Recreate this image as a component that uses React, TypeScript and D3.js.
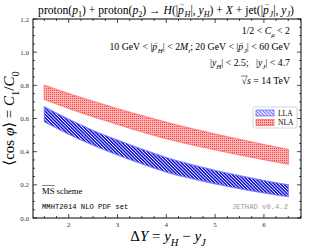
import React from 'react';
import * as d3 from 'd3';

const dY = [1.5, 2, 2.5, 3, 3.5, 4, 4.5, 5, 5.5, 6, 6.5];
const llaUp = [0.67, 0.595, 0.528, 0.47, 0.415, 0.365, 0.323, 0.287, 0.255, 0.226, 0.2];
const llaLo = [0.58, 0.505, 0.439, 0.38, 0.326, 0.277, 0.239, 0.206, 0.177, 0.151, 0.128];
const nlaUp = [0.8, 0.75, 0.703, 0.659, 0.617, 0.577, 0.54, 0.506, 0.474, 0.443, 0.413];
const nlaLo = [0.715, 0.661, 0.611, 0.565, 0.52, 0.478, 0.443, 0.411, 0.381, 0.352, 0.325];
const xTicks = [2, 3, 4, 5, 6];
const yTicks = [0, 0.2, 0.4, 0.6, 0.8, 1.0, 1.2];

const W = 310;
const H = 248;
const left = 33;
const right = 301;
const top = 19;
const bottom = 218;

const serif = '"Liberation Serif", "DejaVu Serif", serif';
const mono = '"Liberation Mono", "DejaVu Sans Mono", monospace';

// [text, style]: '' roman, 'i' italic, 's' italic subscript, 'sn' roman subscript, 'v' vector (italic p with arrow)
type Seg = [string, string?];

const Rich = ({ segs, size, ...rest }: { segs: Seg[]; size: number; [k: string]: any }) => {
  let cur = 0;
  const out: JSX.Element[] = [];
  segs.forEach(([t, s = ''], i) => {
    const sub = s.startsWith('s');
    const it = s === 'i' || s === 's' || s === 'v';
    const off = sub ? size * 0.3 : 0;
    out.push(
      <tspan key={i} dy={off - cur} fontStyle={it ? 'italic' : 'normal'} fontSize={sub ? size * 0.7 : size}>
        {t}
      </tspan>
    );
    cur = off;
    if (s === 'v') {
      const wp = size * 0.5;
      const up = -size * 0.62;
      out.push(
        <tspan
          key={i + 'a'}
          dx={-wp + size * 0.06}
          dy={up - cur}
          fontStyle="normal"
          fontSize={size * 0.55}
          textLength={wp}
          lengthAdjust="spacingAndGlyphs"
        >
          →
        </tspan>
      );
      out.push(<tspan key={i + 'b'} dx={-size * 0.06} />);
      cur = up;
    }
  });
  return (
    <text fontFamily={serif} fontSize={size} {...rest}>
      {out}
    </text>
  );
};

export default function App() {
  const x = d3.scaleLinear().domain([1.268, 6.76]).range([left, right]);
  const y = d3.scaleLinear().domain([0, 1.2]).range([bottom, top]);

  const band = (up: number[], lo: number[]) =>
    d3
      .area<number>()
      .x((d) => x(d))
      .y0((d, i) => y(lo[i]))
      .y1((d, i) => y(up[i]))
      .curve(d3.curveMonotoneX)(dY) as string;

  const xMinor = d3.range(1.5, 6.76, 0.25).filter((v) => !xTicks.some((t) => Math.abs(t - v) < 1e-6));
  const yMinor = d3.range(0, 1.2001, 0.05).filter((v) => !yTicks.some((t) => Math.abs(t - v) < 1e-6));

  const ticks: JSX.Element[] = [];
  xTicks.forEach((v, i) => {
    ticks.push(<line key={'xb' + i} x1={x(v)} x2={x(v)} y1={bottom} y2={bottom - 4} />);
    ticks.push(<line key={'xt' + i} x1={x(v)} x2={x(v)} y1={top} y2={top + 4} />);
  });
  xMinor.forEach((v, i) => {
    ticks.push(<line key={'xmb' + i} x1={x(v)} x2={x(v)} y1={bottom} y2={bottom - 2} />);
    ticks.push(<line key={'xmt' + i} x1={x(v)} x2={x(v)} y1={top} y2={top + 2} />);
  });
  yTicks.forEach((v, i) => {
    ticks.push(<line key={'yl' + i} x1={left} x2={left + 4} y1={y(v)} y2={y(v)} />);
    ticks.push(<line key={'yr' + i} x1={right} x2={right - 4} y1={y(v)} y2={y(v)} />);
  });
  yMinor.forEach((v, i) => {
    ticks.push(<line key={'yml' + i} x1={left} x2={left + 2} y1={y(v)} y2={y(v)} />);
    ticks.push(<line key={'ymr' + i} x1={right} x2={right - 2} y1={y(v)} y2={y(v)} />);
  });

  const textRight = 290;
  const ann = 9.8;

  return (
    <svg width={W} height={H} style={{ position: 'absolute', left: 0, top: 0, background: '#fff' }}>
      <defs>
        <pattern id="hatchBlue" width="2.3" height="2.3" patternUnits="userSpaceOnUse" patternTransform="rotate(45)">
          <rect width="2.3" height="2.3" fill="#ffffff" />
          <rect width="2.3" height="1.4" fill="#0000d0" />
        </pattern>
        <pattern id="hatchBlueL" width="2.4" height="2.4" patternUnits="userSpaceOnUse" patternTransform="rotate(45)">
          <rect width="2.4" height="2.4" fill="#ffffff" />
          <rect width="2.4" height="1.1" fill="#6a6aff" />
        </pattern>
        <pattern id="dotRed" width="2" height="2" patternUnits="userSpaceOnUse">
          <rect width="2" height="2" fill="#ffb4b4" />
          <rect width="1" height="1" fill="#f04040" />
        </pattern>
      </defs>

      <rect x={left} y={top} width={right - left} height={bottom - top} fill="#fff" />

      <path d={band(nlaUp, nlaLo)} fill="url(#dotRed)" stroke="#ff6e6e" strokeWidth={1.2} strokeOpacity={0.8} />
      <path d={band(llaUp, llaLo)} fill="url(#hatchBlue)" stroke="#7070ff" strokeWidth={1.2} strokeOpacity={0.8} />

      <g stroke="#000" strokeWidth={0.7}>{ticks}</g>
      <rect x={left} y={top} width={right - left} height={bottom - top} fill="none" stroke="#000" strokeWidth={1} />

      <g fontFamily={serif} fontSize={7} fill="#333">
        {xTicks.map((v) => (
          <text key={v} x={x(v)} y={bottom + 9} textAnchor="middle">
            {v}
          </text>
        ))}
        {yTicks.map((v) => (
          <text key={v} x={left - 4} y={y(v) + 2.5} textAnchor="end">
            {v.toFixed(1)}
          </text>
        ))}
      </g>

      <Rich
        size={11.6}
        x={166}
        y={13.5}
        textAnchor="middle"
        segs={[
          ['proton('],
          ['p', 'i'],
          ['1', 'sn'],
          [') + proton('],
          ['p', 'i'],
          ['2', 'sn'],
          [') → '],
          ['H', 'i'],
          ['(|'],
          ['p', 'v'],
          ['H', 's'],
          ['|, '],
          ['y', 'i'],
          ['H', 's'],
          [') + '],
          ['X', 'i'],
          [' + jet(|'],
          ['p', 'v'],
          ['J', 's'],
          ['|, '],
          ['y', 'i'],
          ['J', 's'],
          [')'],
        ]}
      />

      <Rich size={ann} x={textRight} y={34} textAnchor="end" segs={[['1/2 < '], ['C', 'i'], ['μ', 's'], [' < 2']]} />
      <Rich
        size={ann}
        x={textRight}
        y={50}
        textAnchor="end"
        segs={[
          ['10 GeV < |'],
          ['p', 'v'],
          ['H', 's'],
          ['| < 2'],
          ['M', 'i'],
          ['t', 's'],
          ['; 20 GeV < |'],
          ['p', 'v'],
          ['J', 's'],
          ['| < 60 GeV'],
        ]}
      />
      <Rich
        size={ann}
        x={textRight}
        y={66}
        textAnchor="end"
        style={{ whiteSpace: 'pre' }}
        segs={[['|'], ['y', 'i'], ['H', 's'], ['| < 2.5;   |'], ['y', 'i'], ['J', 's'], ['| < 4.7']]}
      />
      <Rich size={ann} x={textRight} y={84} textAnchor="end" segs={[['√'], ['s', 'i'], [' = 14 TeV']]} />
      <line x1={textRight - 49} x2={textRight - 42.3} y1={76} y2={76} stroke="#000" strokeWidth={0.5} />

      <g>
        <rect x={253} y={107} width={44} height={21} rx={2} fill="#fff" stroke="#ccc" strokeWidth={0.8} />
        <rect x={256} y={110} width={18} height={6} fill="url(#hatchBlueL)" stroke="#7070ff" strokeWidth={0.8} />
        <rect x={256} y={119.5} width={18} height={6} fill="url(#dotRed)" stroke="#ff6e6e" strokeWidth={0.8} />
        <text x={278} y={115.8} fontFamily={serif} fontSize={7.5}>LLA</text>
        <text x={278} y={125.3} fontFamily={serif} fontSize={7.5}>NLA</text>
      </g>

      <text x={42} y={193.5} fontFamily={serif} fontSize={8.6}>
        MS scheme
      </text>
      <line x1={42} x2={54.5} y1={185.5} y2={185.5} stroke="#000" strokeWidth={0.5} />
      <text x={42} y={209} fontFamily={mono} fontSize={7.2}>
        MMHT2014 NLO PDF set
      </text>
      <text x={288} y={208.5} fontFamily={mono} fontSize={7.2} fill="#999" textAnchor="end">
        JETHAD v0.4.2
      </text>

      <Rich
        size={15}
        x={168}
        y={241}
        textAnchor="middle"
        segs={[['Δ'], ['Y', 'i'], [' = '], ['y', 'i'], ['H', 's'], [' − '], ['y', 'i'], ['J', 's']]}
      />
      <Rich
        size={15}
        transform={`translate(14, ${(top + bottom) / 2}) rotate(-90)`}
        textAnchor="middle"
        segs={[['⟨cos '], ['φ', 'i'], ['⟩ = '], ['C', 'i'], ['1', 'sn'], ['/'], ['C', 'i'], ['0', 'sn']]}
      />
    </svg>
  );
}
